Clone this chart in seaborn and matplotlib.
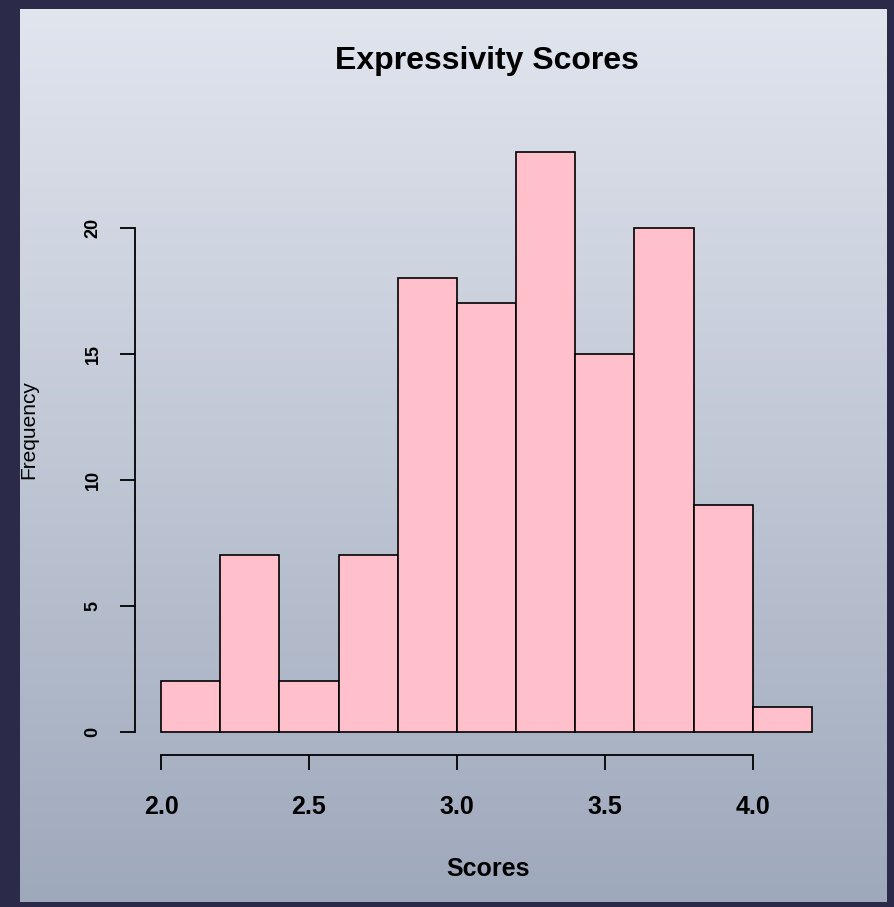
import numpy as np
import matplotlib
matplotlib.use("Agg")
import matplotlib.pyplot as plt
import seaborn as sns

# Data
bin_edges = [2.0, 2.2, 2.4, 2.6, 2.8, 3.0, 3.2, 3.4, 3.6, 3.8, 4.0, 4.2]
bin_centers = [2.1, 2.3, 2.5, 2.7, 2.9, 3.1, 3.3, 3.5, 3.7, 3.9, 4.1]
counts = [2, 7, 2, 7, 18, 17, 23, 15, 20, 9, 1]
x_ticks = [2.0, 2.5, 3.0, 3.5, 4.0]
x_tick_labels = ["2.0", "2.5", "3.0", "3.5", "4.0"]
y_ticks = [0, 5, 10, 15, 20]
y_tick_labels = ["0", "5", "10", "15", "20"]
title = "Expressivity Scores"
xlabel = "Scores"
ylabel = "Frequency"

sns.set_theme(style="white")
plt.rcParams['font.family'] = ['Liberation Sans', 'DejaVu Sans']

W, H = 894, 907
fig = plt.figure(figsize=(W / 100, H / 100), dpi=100)
fig.patch.set_facecolor("#2b2a48")

# background panel with vertical gradient
bg = fig.add_axes([0, 0, 1, 1], zorder=0)
bg.set_xlim(0, W)
bg.set_ylim(H, 0)
bg.axis("off")
top = np.array([0xe1, 0xe5, 0xee]) / 255
bot = np.array([0x9f, 0xa9, 0xbc]) / 255
t = np.linspace(0, 1, 256)[:, None, None]
grad = top * (1 - t) + bot * t
grad = np.repeat(grad, 2, axis=1)
bg.imshow(grad, extent=[20, 887, 902, 9], aspect="auto", interpolation="bilinear")

# main axes
left, right, topp, botp = 135, 838, 129, 755
ax = fig.add_axes([left / W, 1 - botp / H, (right - left) / W, (botp - topp) / H], zorder=1)
ax.patch.set_alpha(0)

sns.histplot(x=bin_centers, weights=counts, bins=bin_edges, ax=ax,
             color="#ffc0cb", edgecolor="black", linewidth=1.2, alpha=1)

ax.set_xlim(1.912, 4.288)
ax.set_ylim(-0.92, 23.92)
for s in ["top", "right"]:
    ax.spines[s].set_visible(False)
ax.spines["left"].set_bounds(0, 20)
ax.spines["bottom"].set_bounds(2.0, 4.0)
for s in ["left", "bottom"]:
    ax.spines[s].set_color("black")
    ax.spines[s].set_linewidth(1.3)

ax.set_xticks(x_ticks)
ax.set_xticklabels(x_tick_labels, fontsize=18, fontweight="bold", color="black")
ax.set_yticks(y_ticks)
ax.set_yticklabels(y_tick_labels, fontsize=13, fontweight="bold", rotation=90,
                   va="center", color="black")
ax.tick_params(axis="both", direction="out", length=11, width=1.3, color="black",
               bottom=True, left=True)
ax.tick_params(axis="x", pad=18)
ax.tick_params(axis="y", pad=13)
ax.set_xlabel("")
ax.set_ylabel("")

fig.text(487 / W, 1 - 61 / H, title, ha="center", va="center", fontsize=23,
         fontweight="heavy", color="black")
fig.text(488 / W, 1 - 869 / H, xlabel, ha="center", va="center", fontsize=18,
         fontweight="bold", color="black")
fig.text(29 / W, 1 - 430 / H, ylabel, ha="center", va="center", rotation=90,
         fontsize=15, color="black")

fig.savefig("out.png", dpi=100, facecolor=fig.get_facecolor())
